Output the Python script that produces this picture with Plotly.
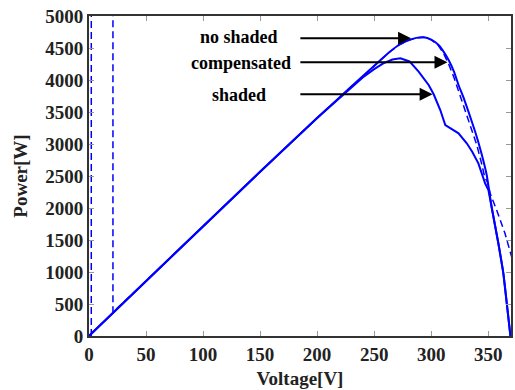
import plotly.graph_objects as go

# ---- data ----
noshade_v = [0, 50, 100, 150, 200, 230, 254, 263, 271.6, 280, 287, 293.5, 300, 306.5, 311, 315.3,
             320, 324, 328.5, 332.7, 338.6, 344, 348.7, 353.1, 358.9, 363.3, 369.5]
noshade_p = [0, 860, 1715, 2565, 3405, 3900, 4286, 4430, 4547, 4620, 4658, 4667, 4630, 4547, 4440, 4312,
             4130, 3922, 3720, 3505, 3192, 2860, 2515, 2010, 1450, 980, 0]

shade_v = [0, 50, 100, 150, 200, 230, 240, 250, 258, 266, 273, 281, 289, 297.8, 302.2, 308, 312.4,
           316, 319.6, 324, 331.2, 336, 341.4, 347.3, 350.2, 353.1, 358.9, 363.3, 369.5]
shade_p = [0, 860, 1715, 2565, 3405, 3890, 4040, 4170, 4260, 4320, 4339, 4290, 4130, 3922, 3777, 3531, 3297,
           3255, 3219, 3167, 3011, 2880, 2698, 2386, 2280, 2010, 1450, 980, 0]

comp_v = [2, 2, 21, 21, 50, 100, 150, 200, 230, 254, 263, 271.6, 280, 287, 293.5, 300, 306.5, 311, 315.3,
          320, 324, 328, 332, 336, 340, 344, 347, 349.5, 351.7, 357.4, 364.7, 370.5]
comp_p = [0, 9000, 9000, 370, 860, 1715, 2565, 3405, 3900, 4286, 4430, 4547, 4620, 4658, 4667, 4630, 4535, 4410, 4250,
          4040, 3830, 3640, 3430, 3225, 2985, 2710, 2480, 2400, 2230, 1969, 1604, 1240]

labels = ["no shaded", "compensated", "shaded"]
arrow_tips_v = [282.4, 314.3, 301.3]
arrow_tips_p = [4652, 4277, 3777]

x_ticks = [0, 50, 100, 150, 200, 250, 300, 350]
y_ticks = list(range(0, 5001, 500))

BLUE = "#0000ff"
FONT = "Liberation Serif"

fig = go.Figure()
fig.add_trace(go.Scatter(x=noshade_v, y=noshade_p, mode="lines",
                         line=dict(color=BLUE, width=2, shape="spline", smoothing=0.4), name=labels[0]))
fig.add_trace(go.Scatter(x=shade_v, y=shade_p, mode="lines",
                         line=dict(color=BLUE, width=2), name=labels[2]))
fig.add_trace(go.Scatter(x=comp_v, y=comp_p, mode="lines",
                         line=dict(color=BLUE, width=1.5, dash="7px,4px"), name=labels[1]))

tail_v = 184
text_x = [131.7, 133, 131.7]
text_y = [4677, 4266, 3766]
for lab, tv, tp, tx, ty in zip(labels, arrow_tips_v, arrow_tips_p, text_x, text_y):
    fig.add_annotation(x=tv, y=tp, ax=tail_v, ay=tp, xref="x", yref="y", axref="x", ayref="y",
                       showarrow=True, arrowhead=2, arrowsize=1.3, arrowwidth=2,
                       arrowcolor="black", standoff=0, text="")
    fig.add_annotation(x=tx, y=ty, xref="x", yref="y", showarrow=False, text=lab,
                       font=dict(family=FONT, size=18, color="black", weight="bold"),
                       xanchor="center", yanchor="middle")

axis_common = dict(showline=True, linecolor="#333333", linewidth=2, mirror="ticks",
                   ticks="inside", ticklen=5, tickcolor="#999999", tickwidth=1,
                   showgrid=False, zeroline=False,
                   tickfont=dict(family=FONT, size=19, color="#222222", weight="bold"))

fig.update_xaxes(range=[0, 370], tickvals=x_ticks,
                 title=dict(text="Voltage[V]", font=dict(family=FONT, size=19, color="#222222", weight="bold"),
                            standoff=8),
                 **axis_common)
fig.update_yaxes(range=[0, 5000], tickvals=y_ticks,
                 title=dict(text="Power[W]", font=dict(family=FONT, size=19, color="#222222", weight="bold"),
                            standoff=13),
                 **axis_common)

fig.update_layout(width=515, height=390, margin=dict(l=89, r=2, t=16, b=54),
                  paper_bgcolor="white", plot_bgcolor="white", showlegend=False)

fig.write_html("out.html")
